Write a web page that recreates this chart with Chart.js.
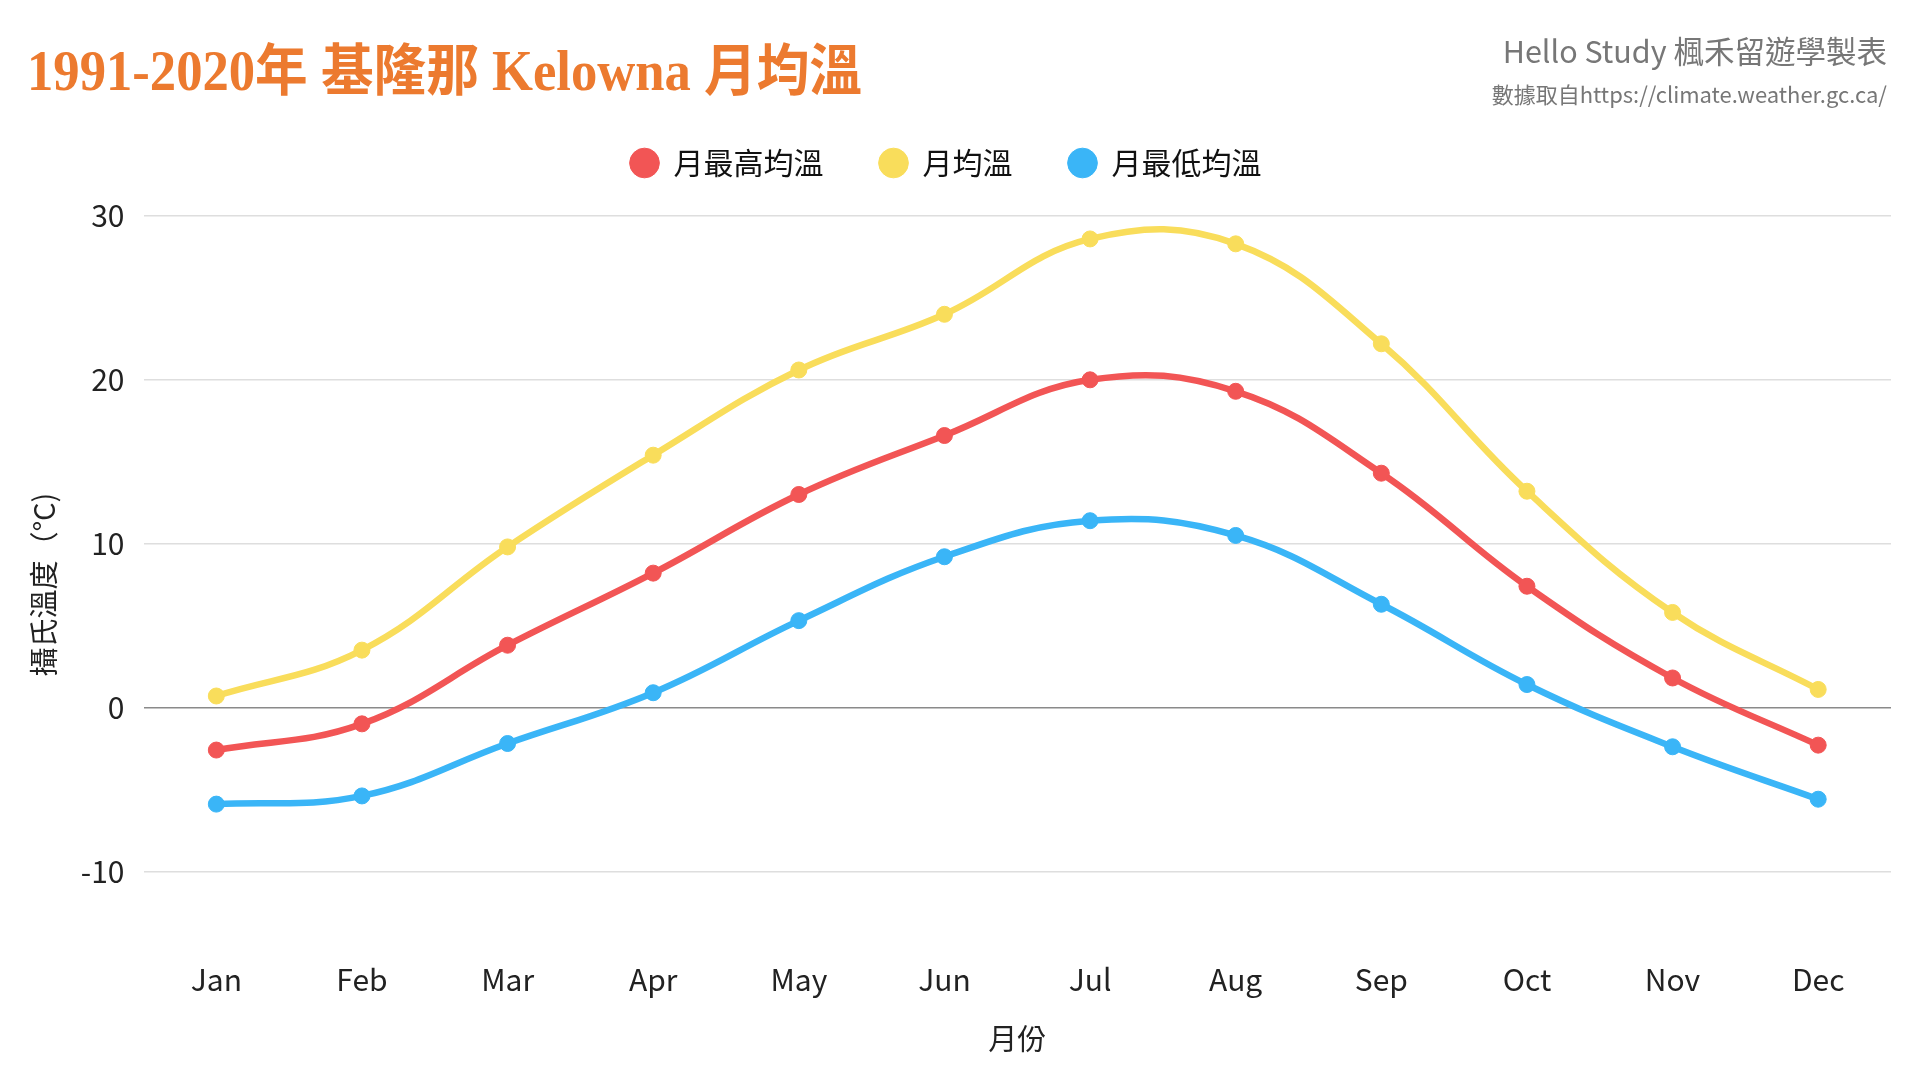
<!DOCTYPE html>
<html>
<head>
<meta charset="utf-8">
<script src="https://cdn.jsdelivr.net/npm/chart.js@4.4.1/dist/chart.umd.min.js"></script>
<style>
  html, body { margin: 0; padding: 0; background: #ffffff; width: 1920px; height: 1080px; overflow: hidden; }
  #wrap { position: relative; width: 1920px; height: 1080px; }
  #c { position: absolute; left: 0; top: 0; }
  #title { position: absolute; left: 27px; top: 38px; line-height: 66px; font-size: 56px; font-weight: bold;
           font-family: "Liberation Serif", "Noto Sans CJK TC", serif; color: #EC7A2F; white-space: nowrap;
           transform: scaleX(0.94); transform-origin: left center; }
  .credit { position: absolute; right: 33px; color: #777777; font-family: "Noto Sans CJK TC", "Noto Sans", sans-serif; white-space: nowrap; }
  #credit1 { top: 30px; font-size: 30.5px; line-height: 40px; }
  #credit2 { top: 78px; font-size: 22px; line-height: 30px; }
</style>
</head>
<body>
<div id="wrap">
  <canvas id="c" width="1920" height="1080"></canvas>
  <div id="title">1991-2020年 基隆那 Kelowna 月均溫</div>
  <div id="credit1" class="credit">Hello Study 楓禾留遊學製表</div>
  <div id="credit2" class="credit">數據取自https://climate.weather.gc.ca/</div>
</div>
<script>
// ---- data ----
const months = ['Jan', 'Feb', 'Mar', 'Apr', 'May', 'Jun', 'Jul', 'Aug', 'Sep', 'Oct', 'Nov', 'Dec'];
const seriesNames = ['月最高均溫', '月均溫', '月最低均溫'];
const redSeries = [-2.6, -1.0, 3.8, 8.2, 13.0, 16.6, 20.0, 19.3, 14.3, 7.4, 1.8, -2.3];
const yellowSeries = [0.7, 3.5, 9.8, 15.4, 20.6, 24.0, 28.6, 28.3, 22.2, 13.2, 5.8, 1.1];
const blueSeries = [-5.9, -5.4, -2.2, 0.9, 5.3, 9.2, 11.4, 10.5, 6.3, 1.4, -2.4, -5.6];
const yTickValues = [-10, 0, 10, 20, 30];
const xAxisTitle = '月份';
const yAxisTitle = '攝氏溫度（°C)';

const RED = '#F25555';
const YELLOW = '#F9DD5B';
const BLUE = '#3AB5F7';

Chart.defaults.font.family = '"Noto Sans CJK TC", "Noto Sans", sans-serif';
Chart.defaults.color = '#222222';

const legendSpacer = {
  id: 'legendSpacer',
  beforeLayout(chart) {
    const lg = chart.legend;
    if (lg && !lg.__patched) {
      const orig = lg.fit;
      lg.fit = function () { orig.call(this); this.height += 28; };
      lg.__patched = true;
    }
  }
};

function ds(label, data, color) {
  return {
    label, data,
    borderColor: color, backgroundColor: color,
    pointBackgroundColor: color, pointBorderColor: color,
    borderWidth: 6.5, pointRadius: 8, pointBorderWidth: 1,
    tension: 0.4, fill: false
  };
}

new Chart(document.getElementById('c'), {
  type: 'line',
  data: {
    labels: months,
    datasets: [
      ds(seriesNames[0], redSeries, RED),
      ds(seriesNames[1], yellowSeries, YELLOW),
      ds(seriesNames[2], blueSeries, BLUE)
    ]
  },
  plugins: [legendSpacer],
  options: {
    responsive: false,
    devicePixelRatio: 1,
    animation: false,
    layout: { padding: { top: 92, left: 1, right: 29, bottom: 24 } },
    plugins: {
      legend: {
        position: 'top',
        labels: {
          usePointStyle: true, pointStyle: 'circle',
          boxWidth: 28, boxHeight: 21, padding: 56,
          color: '#111111',
          font: { size: 30 }
        }
      },
      tooltip: { enabled: false }
    },
    scales: {
      x: {
        offset: true,
        grid: { display: false, drawTicks: false },
        border: { display: false },
        ticks: { font: { size: 30 }, padding: 8, color: '#222222' },
        title: { display: true, text: xAxisTitle, font: { size: 29 }, color: '#222222', padding: { top: 16, bottom: 0 } }
      },
      y: {
        min: -15, max: 30,
        afterBuildTicks(scale) { scale.ticks = yTickValues.map(v => ({ value: v })); },
        grid: {
          drawTicks: false,
          color: (ctx) => (ctx.tick && ctx.tick.value === 0) ? '#8a8a8a' : '#dedede',
          lineWidth: 1.5
        },
        border: { display: false },
        ticks: { font: { size: 30 }, padding: 19, color: '#222222' },
        title: { display: true, text: yAxisTitle, font: { size: 29 }, color: '#222222', padding: { top: 26, bottom: 0 } }
      }
    }
  }
});
</script>
</body>
</html>
